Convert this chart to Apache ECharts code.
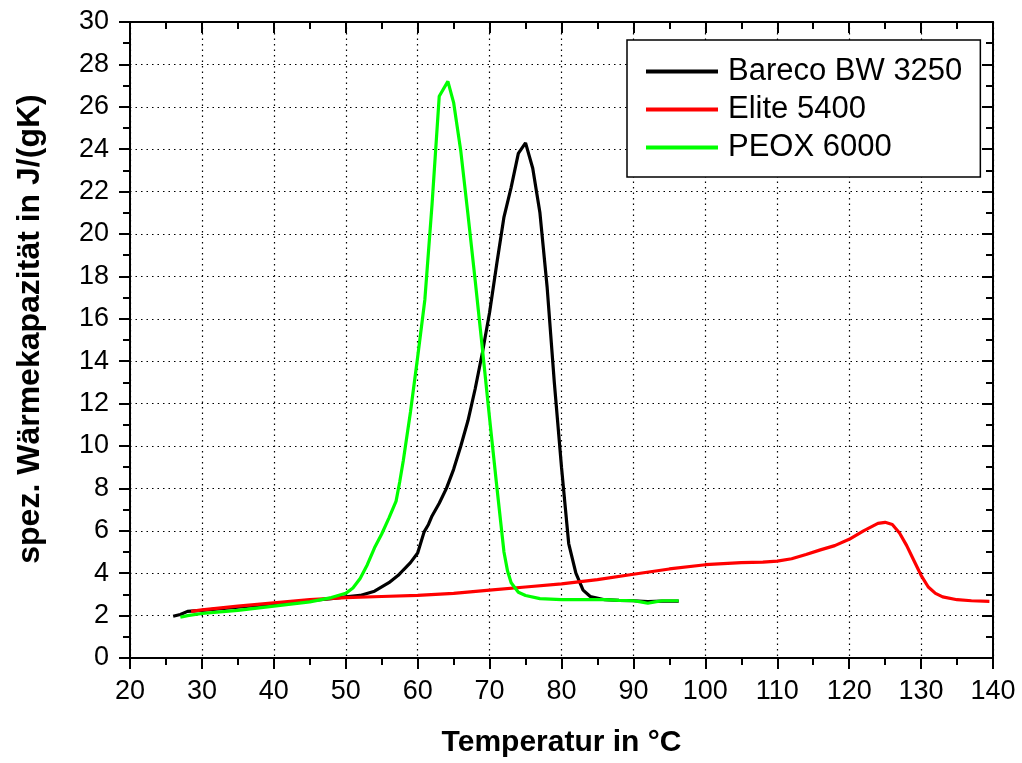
<!DOCTYPE html>
<html>
<head>
<meta charset="utf-8">
<script src="https://cdn.jsdelivr.net/npm/echarts@6/dist/echarts.min.js"></script>
<style>html,body{margin:0;padding:0;background:#fff}#c{width:1022px;height:763px}</style>
</head>
<body>
<div id="c"></div>
<script>
// Bareco BW 3250
const barecoT = [26.0,27.0,28.0,30,35,40,45,48,50,52,54,56,57.3,58,59,60,60.9,61.5,62,63,64,65,66,67,68,69,70,71,72,73,74,75,76,77,78,79,80,80.5,81,82,83,84,86,88,90,92,94,96.3];
const barecoC = [1.97,2.05,2.2,2.25,2.4,2.55,2.7,2.8,2.88,2.95,3.15,3.55,3.9,4.15,4.5,4.95,5.95,6.3,6.7,7.3,8.0,8.9,10.0,11.2,12.7,14.4,16.3,18.6,20.8,22.2,23.8,24.3,23.1,21.0,17.5,13.0,9.0,7.2,5.4,4.0,3.2,2.9,2.75,2.72,2.7,2.66,2.68,2.68];
// Elite 5400
const eliteT = [28.5,30,35,40,45,50,55,60,65,70,75,80,85,90,95,100,105,108,110,112,114,116,118,120,122,124,125,126,127,128,129,130,131,132,133,135,137,139.5];
const eliteC = [2.2,2.27,2.45,2.6,2.75,2.85,2.9,2.95,3.05,3.2,3.35,3.5,3.7,3.95,4.2,4.4,4.5,4.52,4.57,4.68,4.88,5.1,5.3,5.6,6.0,6.35,6.4,6.3,5.9,5.3,4.6,3.9,3.35,3.05,2.88,2.75,2.7,2.67];
// PEOX 6000
const peoxT = [27,28,30,35,40,45,48,50,51,52,53,54,55,56,57,57.5,58,59,60,61,62,63,64.2,65,66,67,68,69,70,71,72,72.5,73,74,75,77,80,83,86,88,90,91,92,93,94,96.3];
const peoxC = [1.92,2.0,2.1,2.25,2.45,2.65,2.85,3.05,3.3,3.75,4.4,5.2,5.85,6.6,7.4,8.3,9.3,11.6,14.2,16.9,21.4,26.5,27.2,26.2,23.9,20.9,17.8,14.6,11.3,8.1,5.0,4.1,3.55,3.1,2.95,2.8,2.75,2.75,2.75,2.72,2.7,2.65,2.58,2.65,2.7,2.7];

const seriesNames = ['Bareco BW 3250','Elite 5400','PEOX 6000'];
const seriesColors = ['#000000','#ff0000','#00ff00'];
const xTitle = 'Temperatur in °C';
const yTitle = 'spez. Wärmekapazität in J/(gK)';

const zip = (a,b) => a.map((v,i)=>[v,b[i]]);
const FONT = '"Liberation Sans", Arial, sans-serif';

const chart = echarts.init(document.getElementById('c'), null, {renderer:'canvas'});
const baseX = {
  type:'value', min:20, max:140, interval:10,
  axisLine:{show:true, onZero:false, lineStyle:{color:'#000', width:2}},
  axisTick:{show:true, length:11, lineStyle:{color:'#000', width:2}},
  minorTick:{show:true, splitNumber:2, length:7, lineStyle:{color:'#000', width:2}},
};
const baseY = {
  type:'value', min:0, max:30, interval:2,
  axisLine:{show:true, onZero:false, lineStyle:{color:'#000', width:2}},
  axisTick:{show:true, length:11, lineStyle:{color:'#000', width:2}},
  minorTick:{show:true, splitNumber:2, length:7, lineStyle:{color:'#000', width:2}},
};
const option = {
  animation:false,
  backgroundColor:'#fff',
  textStyle:{fontFamily:FONT},
  grid:{left:130, right:29, top:22, bottom:103, containLabel:false},
  legend:{
    show:true, orient:'vertical', left:627, top:40,
    data:seriesNames,
    icon:'rect', itemWidth:72, itemHeight:4, itemGap:7,
    borderColor:'#000', borderWidth:1.5, backgroundColor:'#fff',
    padding:[16,18,14,19],
    textStyle:{fontFamily:FONT, fontSize:31, color:'#000', lineHeight:31, padding:[0,0,0,5]}
  },
  xAxis:[
    Object.assign({}, baseX, {
      position:'bottom',
      name:xTitle, nameLocation:'middle', nameGap:70,
      nameTextStyle:{fontFamily:FONT, fontSize:30, fontWeight:'bold', color:'#000'},
      axisLabel:{fontFamily:FONT, fontSize:27, color:'#000', margin:20},
      splitLine:{show:true, lineStyle:{color:'#000', width:1.2, type:[1.5,4]}}
    }),
    Object.assign({}, baseX, {
      position:'top',
      axisTick:Object.assign({}, baseX.axisTick, {inside:true}),
      minorTick:Object.assign({}, baseX.minorTick, {inside:true}),
      axisLabel:{show:false}, splitLine:{show:false}
    })
  ],
  yAxis:[
    Object.assign({}, baseY, {
      position:'left',
      name:yTitle, nameLocation:'middle', nameGap:84,
      nameTextStyle:{fontFamily:FONT, fontSize:32, fontWeight:'bold', color:'#000', padding:[0,0,0,22]},
      axisLabel:{fontFamily:FONT, fontSize:27, color:'#000', margin:21},
      splitLine:{show:true, lineStyle:{color:'#000', width:1.2, type:[1.5,4]}}
    }),
    Object.assign({}, baseY, {
      position:'right',
      axisTick:Object.assign({}, baseY.axisTick, {inside:true}),
      minorTick:Object.assign({}, baseY.minorTick, {inside:true}),
      axisLabel:{show:false}, splitLine:{show:false}
    })
  ],
  series:[
    {name:seriesNames[0], type:'line', data:zip(barecoT,barecoC), showSymbol:false, symbol:'none', color:seriesColors[0], lineStyle:{width:3.2, color:seriesColors[0]}, z:3},
    {name:seriesNames[1], type:'line', data:zip(eliteT,eliteC), showSymbol:false, symbol:'none', color:seriesColors[1], lineStyle:{width:3.2, color:seriesColors[1]}, z:4},
    {name:seriesNames[2], type:'line', data:zip(peoxT,peoxC), showSymbol:false, symbol:'none', color:seriesColors[2], lineStyle:{width:3.2, color:seriesColors[2]}, z:5}
  ]
};
chart.setOption(option);
</script>
</body>
</html>
